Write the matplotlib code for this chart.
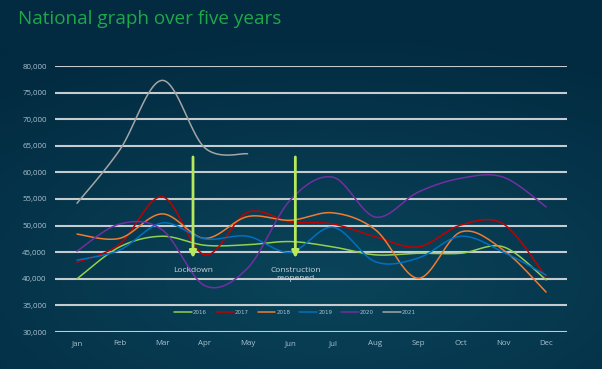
import numpy as np
import matplotlib
matplotlib.use("Agg")
import matplotlib.pyplot as plt

months = ["Jan", "Feb", "Mar", "Apr", "May", "Jun", "Jul", "Aug", "Sep", "Oct", "Nov", "Dec"]
years = ["2016", "2017", "2018", "2019", "2020", "2021"]
s2016 = [40000, 46000, 48000, 46300, 46400, 47000, 46000, 44500, 44800, 44800, 46000, 39800]
s2017 = [43100, 46500, 55400, 44500, 52500, 50700, 50300, 47900, 46000, 50100, 50300, 40300]
s2018 = [48400, 47600, 52200, 47600, 51700, 51000, 52400, 49200, 40100, 48800, 45400, 37500]
s2019 = [43500, 45400, 50500, 47500, 48000, 45000, 49700, 43200, 43900, 48000, 45000, 40700]
s2020 = [45200, 50300, 49200, 38700, 42000, 54800, 59100, 51600, 56300, 58900, 59100, 53500]
s2021 = [54200, 64200, 77300, 64600, 63500]
series = [s2016, s2017, s2018, s2019, s2020, s2021]
colors = ["#92d050", "#c00000", "#ed7d31", "#0070c0", "#7030a0", "#a5a5a5"]
yticks = [30000, 35000, 40000, 45000, 50000, 55000, 60000, 65000, 70000, 75000, 80000]
notes = ["Lockdown", "Construction\nreopened"]
note_x = [2.72, 5.12]


def smooth(xs, ys, n=30):
    xs = np.asarray(xs, float)
    ys = np.asarray(ys, float)
    px = np.concatenate([[xs[0]], xs, [xs[-1]]])
    py = np.concatenate([[ys[0]], ys, [ys[-1]]])
    outx, outy = [], []
    t = np.linspace(0, 1, n)
    for i in range(1, len(px) - 2):
        p0x, p1x, p2x, p3x = px[i - 1], px[i], px[i + 1], px[i + 2]
        p0y, p1y, p2y, p3y = py[i - 1], py[i], py[i + 1], py[i + 2]
        c1x = p1x + (p2x - p0x) / 6
        c1y = p1y + (p2y - p0y) / 6
        c2x = p2x - (p3x - p1x) / 6
        c2y = p2y - (p3y - p1y) / 6
        bx = (1 - t) ** 3 * p1x + 3 * (1 - t) ** 2 * t * c1x + 3 * (1 - t) * t ** 2 * c2x + t ** 3 * p2x
        by = (1 - t) ** 3 * p1y + 3 * (1 - t) ** 2 * t * c1y + 3 * (1 - t) * t ** 2 * c2y + t ** 3 * p2y
        outx.extend(bx)
        outy.extend(by)
    return np.array(outx), np.array(outy)


W, H = 602, 369
fig = plt.figure(figsize=(W / 100, H / 100), dpi=100)

# background gradient
bg = fig.add_axes([0, 0, 1, 1], zorder=-10)
yy, xx = np.mgrid[0:1:200j, 0:1:300j]
d = np.sqrt(((xx - 0.55) * 1.0) ** 2 + ((yy - 0.75) * 1.3) ** 2)
d = np.clip(d / 0.9, 0, 1)
c_in = np.array([10, 68, 90]) / 255
c_out = np.array([2, 42, 64]) / 255
img = c_in[None, None, :] * (1 - d[..., None]) + c_out[None, None, :] * d[..., None]
bg.imshow(img, aspect="auto", extent=[0, 1, 0, 1], origin="upper")
bg.axis("off")

fig.text(18 / W, 1 - 19 / H, "National graph over five years", color="#1fa84a",
         fontsize=13.6, family="Open Sans", va="center", ha="left")

ax = fig.add_axes([55 / W, 1 - 332 / H, (567 - 55) / W, (332 - 66) / H])
ax.set_facecolor("none")
ax.set_xlim(-0.516, 11.49)
ax.set_ylim(30000, 80000)
for s in ax.spines.values():
    s.set_visible(False)
ax.set_yticks(yticks)
ax.set_yticklabels([f"{v:,}" for v in yticks])
ax.set_xticks(range(len(months)))
ax.set_xticklabels(months)
ax.tick_params(length=0, colors="#a9c2d2", labelsize=5.7, pad=6)
for lab in ax.get_xticklabels() + ax.get_yticklabels():
    lab.set_family("Open Sans")
ax.yaxis.grid(True, color="#c5ccd0", lw=1.5)
ax.set_axisbelow(True)

handles = []
for name, vals, c in zip(years, series, colors):
    x = np.arange(len(vals))
    sx, sy = smooth(x, vals)
    h, = ax.plot(sx, sy, color=c, lw=1.1, label=name, solid_capstyle="round")
    handles.append(h)

for xv, txt in zip(note_x, notes):
    ax.annotate("", xy=(xv, 43900), xytext=(xv, 62900),
                arrowprops=dict(arrowstyle="-|>,head_length=0.4,head_width=0.2",
                                color="#b6ea5c", lw=2, shrinkA=0, shrinkB=0))
    ax.text(xv, 42300, txt, ha="center", va="top", color="#c9d6de",
            fontsize=6, family="Open Sans", linespacing=1.35)

leg = ax.legend(handles=handles, loc="center", bbox_to_anchor=(295 / W, 1 - 312 / H),
                bbox_transform=fig.transFigure, ncol=6, frameon=False,
                fontsize=4, handlelength=3.2, handletextpad=0.2, columnspacing=1.6)
for t in leg.get_texts():
    t.set_color("#a9c2d2")

fig.savefig("out.png", dpi=100)
